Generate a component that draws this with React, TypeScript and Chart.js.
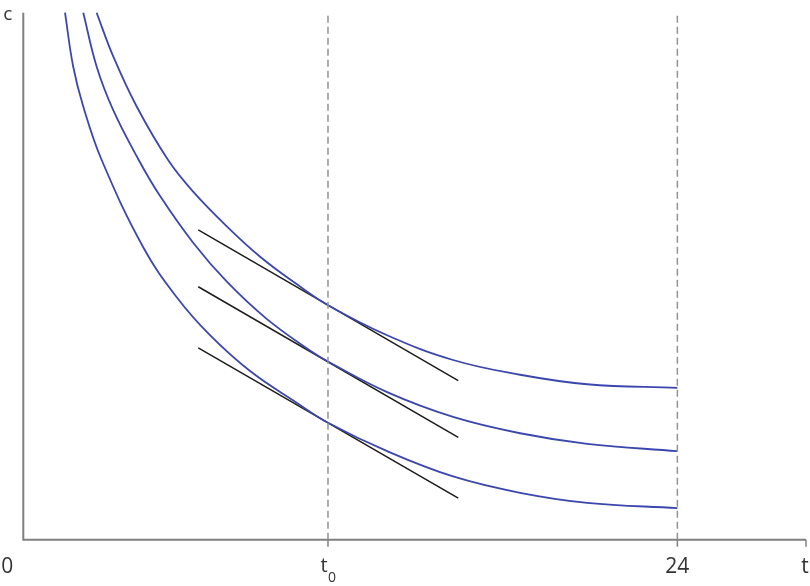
import React, { useEffect, useRef } from "react";
import { Chart, registerables } from "chart.js";

Chart.register(...registerables);

// Axis settings (t in hours, c consumption)
const X_MAX = 28.72;
const Y_MAX = 10;
const T0 = 11.18;
const T_END = 24;

// Tick labels
const xTickLabels = ["0", "t0", "24", "t"];
const yAxisLabel = "c";

// Indifference curves
const curveHighT = [2.69, 3.3, 4.16, 5.32, 6.24, 7.46, 8.69, 10.03, 11.18, 13.35, 15.77, 18.23, 20.69, 24];
const curveHighC = [10, 9.17, 8.22, 7.2, 6.6, 5.95, 5.37, 4.85, 4.45, 3.88, 3.41, 3.13, 2.95, 2.88];

const curveMidT = [2.2, 2.69, 3.3, 4.22, 5.02, 6.24, 7.46, 8.93, 10.52, 11.18, 13.35, 15.77, 18.23, 20.69, 24];
const curveMidC = [10, 8.98, 8.15, 7.22, 6.52, 5.63, 4.9, 4.19, 3.59, 3.38, 2.8, 2.33, 2.02, 1.82, 1.68];

const curveLowT = [1.53, 1.83, 2.2, 2.88, 4.4, 5.63, 6.85, 8.32, 10.03, 11.18, 13.35, 15.77, 18.23, 20.69, 24];
const curveLowC = [10, 8.98, 8.22, 7.2, 5.55, 4.6, 3.88, 3.2, 2.6, 2.22, 1.68, 1.2, 0.89, 0.7, 0.6];

// Tangent (budget) lines
const tangentT = [6.42, 15.96];
const tangentHighC = [5.88, 3.02];
const tangentMidC = [4.8, 1.94];
const tangentLowC = [3.64, 0.79];

const BLUE = "#3b47ae";
const BLACK = "#1c1c1c";
const GREY_DASH = "#8d9399";
const AXIS = "#808080";
const TEXT = "#333333";
const FONT = "'Open Sans', 'DejaVu Sans', sans-serif";

const pts = (xs: number[], ys: number[]) => xs.map((x, i) => ({ x, y: ys[i] }));

const axesPlugin = {
  id: "econAxes",
  beforeDatasetsDraw(chart: any) {
    const { ctx, chartArea, scales } = chart;
    const xs = scales.x;
    const { left, right, top, bottom } = chartArea;
    ctx.save();
    ctx.strokeStyle = AXIS;
    ctx.lineWidth = 2;
    ctx.beginPath();
    ctx.moveTo(left, top);
    ctx.lineTo(left, bottom);
    ctx.lineTo(right, bottom);
    ctx.stroke();
    ctx.lineWidth = 1.5;
    [T0, T_END, X_MAX].forEach((v) => {
      const px = xs.getPixelForValue(v);
      ctx.beginPath();
      ctx.moveTo(px, bottom);
      ctx.lineTo(px, bottom + 7);
      ctx.stroke();
    });
    ctx.restore();
  },
  afterDraw(chart: any) {
    const { ctx, chartArea, scales } = chart;
    const xs = scales.x;
    const { left, top, bottom } = chartArea;
    ctx.save();
    ctx.fillStyle = TEXT;
    ctx.textAlign = "center";
    ctx.textBaseline = "alphabetic";
    const base = bottom + 33;
    ctx.font = `21px ${FONT}`;
    ctx.fillText(xTickLabels[0], left - 16, base);
    ctx.fillText(xTickLabels[2], xs.getPixelForValue(T_END), base);
    ctx.fillText(xTickLabels[3], xs.getPixelForValue(X_MAX) - 1, base);
    const t0px = xs.getPixelForValue(T0);
    ctx.font = `20px ${FONT}`;
    ctx.fillText(xTickLabels[1].charAt(0), t0px - 4, base - 1);
    ctx.font = `14px ${FONT}`;
    ctx.fillText(xTickLabels[1].charAt(1), t0px + 4, base + 9);
    ctx.font = `19px ${FONT}`;
    ctx.fillText(yAxisLabel, left - 15.5, top + 7);
    ctx.restore();
  },
};

export default function App() {
  const ref = useRef<HTMLCanvasElement | null>(null);

  useEffect(() => {
    if (!ref.current) return;
    const curve = (data: any) => ({
      data,
      borderColor: BLUE,
      borderWidth: 1.8,
      pointRadius: 0,
      showLine: true,
      tension: 0.4,
      clip: false as any,
    });
    const straight = (data: any) => ({
      data,
      borderColor: BLACK,
      borderWidth: 1.5,
      pointRadius: 0,
      showLine: true,
      clip: false as any,
    });
    const dashed = (v: number) => ({
      data: [
        { x: v, y: 0 },
        { x: v, y: Y_MAX },
      ],
      borderColor: GREY_DASH,
      borderWidth: 1.5,
      borderDash: [7, 4],
      pointRadius: 0,
      showLine: true,
      clip: false as any,
    });
    const chart = new Chart(ref.current, {
      type: "scatter",
      data: {
        datasets: [
          dashed(T0),
          dashed(T_END),
          curve(pts(curveHighT, curveHighC)),
          curve(pts(curveMidT, curveMidC)),
          curve(pts(curveLowT, curveLowC)),
          straight(pts(tangentT, tangentHighC)),
          straight(pts(tangentT, tangentMidC)),
          straight(pts(tangentT, tangentLowC)),
        ] as any,
      },
      options: {
        animation: false,
        responsive: false,
        layout: { padding: { left: 23.3, right: 4, top: 12.7, bottom: 46.3 } },
        plugins: { legend: { display: false }, tooltip: { enabled: false } },
        scales: {
          x: { type: "linear", min: 0, max: X_MAX, display: false },
          y: { type: "linear", min: 0, max: Y_MAX, display: false },
        },
      },
      plugins: [axesPlugin],
    });
    return () => chart.destroy();
  }, []);

  return (
    <div style={{ position: "fixed", left: 0, top: 0, width: 810, height: 586, background: "#fff" }}>
      <canvas ref={ref} width={810} height={586} />
    </div>
  );
}
